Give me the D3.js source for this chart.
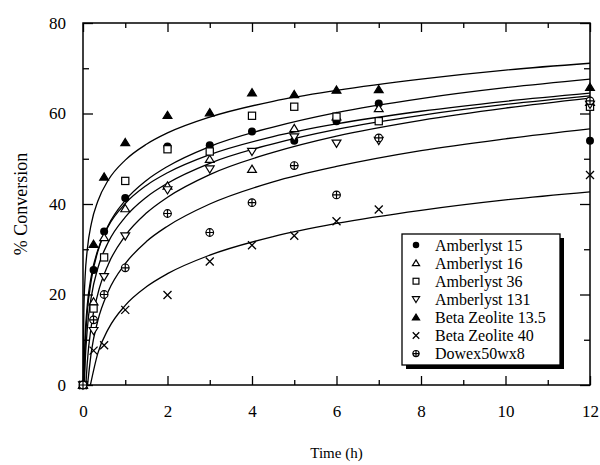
<!DOCTYPE html>
<html>
<head>
<meta charset="utf-8">
<script src="https://cdn.jsdelivr.net/npm/d3@7"></script>
<style>
  body { margin: 0; background: #fff; }
  svg { font-family: "Liberation Serif", "Times New Roman", serif; }
</style>
</head>
<body>
<script>
const width = 600;
const height = 465;

const plotLeft = 83, plotRight = 590, plotTop = 23, plotBottom = 385;

// catalysts, in legend order
const seriesNames = ['Amberlyst 15', 'Amberlyst 16', 'Amberlyst 36', 'Amberlyst 131',
                     'Beta Zeolite 13.5', 'Beta Zeolite 40', 'Dowex50wx8'];
const markerTypes = ['dot', 'tri', 'square', 'triDown', 'triFill', 'cross', 'oplus'];

// measured points (% conversion)
const times   = [0, 0.25, 0.5, 1, 2, 3, 4, 5, 6, 7, 12];
const amb15   = [0, 25.4, 33.9, 41.3, 52.7, 53.0, 56.0, 54.0, 58.3, 62.2, 54.0];
const amb16   = [0, 18.4, 32.6, 39.0, 44.0, 49.9, 47.7, 56.7, 59.3, 61.1, 62.5];
const amb36   = [0, 16.9, 28.2, 45.1, 52.1, 51.6, 59.5, 61.5, 59.3, 58.3, 61.5];
const amb131  = [0, 12.0, 23.9, 32.9, 43.1, 47.7, 51.6, 54.8, 53.4, 54.0, 62.0];
const beta135 = [0, 31.1, 46.0, 53.6, 59.6, 60.2, 64.6, 64.2, 65.2, 65.3, 65.8];
const beta40  = [0, 7.6, 8.8, 16.6, 19.9, 27.3, 30.9, 33.0, 36.2, 38.8, 46.4];
const dowex   = [0, 14.4, 20.0, 25.9, 37.9, 33.7, 40.3, 48.5, 42.0, 54.6, 62.8];

// fitted curves (start = where a curve leaves the x axis)
const fitTimes   = [0.02, 0.05, 0.1, 0.2, 0.35, 0.6, 1, 1.5, 2, 3, 4.5, 6, 8, 10, 12];
const fitStart   = [0.023, 0.032, 0.017, 0.068, 0.0031, 0.175, 0.107];
const fitAmb15   = [null, 8.4, 15.9, 23.4, 29.5, 35.3, 40.8, 45.2, 48.3, 52.7, 57.0, 60.2, 63.3, 65.7, 67.6];
const fitAmb16   = [null, 4.7, 12.2, 19.7, 25.8, 31.6, 37.1, 41.5, 44.6, 49.0, 53.3, 56.5, 59.6, 62.0, 63.9];
const fitAmb36   = [1.6, 10.6, 17.5, 24.3, 29.8, 35.1, 40.1, 44.1, 46.9, 50.9, 54.9, 57.7, 60.5, 62.7, 64.5];
const fitAmb131  = [null, null, 4.8, 13.3, 20.1, 26.7, 33.0, 38.0, 41.5, 46.5, 51.4, 55.0, 58.5, 61.2, 63.4];
const fitBeta135 = [16.0, 23.9, 29.8, 35.8, 40.6, 45.3, 49.7, 53.2, 55.7, 59.2, 62.7, 65.1, 67.6, 69.6, 71.1];
const fitBeta40  = [null, null, null, null, 7.0, 12.4, 17.6, 21.7, 24.6, 28.7, 32.8, 35.7, 38.6, 40.9, 42.7];
const fitDowex   = [null, null, null, 7.5, 14.2, 20.7, 26.8, 31.7, 35.1, 40.0, 44.9, 48.3, 51.8, 54.4, 56.6];

const xTicks = [0, 2, 4, 6, 8, 10, 12];
const xMinor = [1, 3, 5, 7, 9, 11];
const yTicks = [0, 20, 40, 60, 80];
const yMinor = [10, 30, 50, 70];

const pointSeries = [amb15, amb16, amb36, amb131, beta135, beta40, dowex];
const fitSeries = [fitAmb15, fitAmb16, fitAmb36, fitAmb131, fitBeta135, fitBeta40, fitDowex];


const svg = d3.select('body')
  .append('svg')
  .attr('width', width)
  .attr('height', height);

svg.append('rect')
  .attr('width', width)
  .attr('height', height)
  .attr('fill', '#fff');

const x = d3.scaleLinear().domain([0, 12]).range([plotLeft, plotRight]);
const y = d3.scaleLinear().domain([0, 80]).range([plotBottom, plotTop]);


// axes: ticks point inward on all four sides
function styleAxis(g) {
  g.select('.domain').remove();
  g.selectAll('line').attr('stroke', '#000').attr('stroke-width', 1.3);
  g.selectAll('text').attr('fill', '#000').style('font-size', '17px')
    .style('font-family', '"Liberation Serif", serif');
}

svg.append('g')
  .attr('transform', `translate(0,${plotBottom})`)
  .call(d3.axisBottom(x).tickValues(xTicks).tickSize(-9).tickPadding(20).tickFormat(d3.format('d')))
  .call(styleAxis);
svg.append('g')
  .attr('transform', `translate(0,${plotBottom})`)
  .call(d3.axisBottom(x).tickValues(xMinor).tickSize(-5).tickFormat(''))
  .call(styleAxis);
svg.append('g')
  .attr('transform', `translate(0,${plotTop})`)
  .call(d3.axisTop(x).tickValues(xTicks).tickSize(-9).tickFormat(''))
  .call(styleAxis);
svg.append('g')
  .attr('transform', `translate(0,${plotTop})`)
  .call(d3.axisTop(x).tickValues(xMinor).tickSize(-5).tickFormat(''))
  .call(styleAxis);

svg.append('g')
  .attr('transform', `translate(${plotLeft},0)`)
  .call(d3.axisLeft(y).tickValues(yTicks).tickSize(-10).tickPadding(17).tickFormat(d3.format('d')))
  .call(styleAxis);
svg.append('g')
  .attr('transform', `translate(${plotLeft},0)`)
  .call(d3.axisLeft(y).tickValues(yMinor).tickSize(-6).tickFormat(''))
  .call(styleAxis);
svg.append('g')
  .attr('transform', `translate(${plotRight},0)`)
  .call(d3.axisRight(y).tickValues(yTicks).tickSize(-10).tickFormat(''))
  .call(styleAxis);
svg.append('g')
  .attr('transform', `translate(${plotRight},0)`)
  .call(d3.axisRight(y).tickValues(yMinor).tickSize(-6).tickFormat(''))
  .call(styleAxis);

// plot frame
svg.append('rect')
  .attr('x', plotLeft).attr('y', plotTop)
  .attr('width', plotRight - plotLeft).attr('height', plotBottom - plotTop)
  .attr('fill', 'none').attr('stroke', '#000').attr('stroke-width', 1.5);


// fitted curves
const line = d3.line()
  .x(d => x(d[0]))
  .y(d => y(d[1]))
  .curve(d3.curveMonotoneX);

const curves = svg.append('g');
fitSeries.forEach((vals, i) => {
  const pts = [[fitStart[i], 0]];
  fitTimes.forEach((t, j) => {
    if (vals[j] !== null && t > fitStart[i]) pts.push([t, vals[j]]);
  });
  curves.append('path')
    .attr('d', line(pts))
    .attr('fill', 'none')
    .attr('stroke', '#000')
    .attr('stroke-width', 1.3);
});


// markers
function drawMarker(g, type, cx, cy, s) {
  const h = s / 2;
  if (type === 'dot') {
    g.append('circle').attr('cx', cx).attr('cy', cy).attr('r', h).attr('fill', '#000');
  } else if (type === 'square') {
    g.append('rect').attr('x', cx - h * 0.9).attr('y', cy - h * 0.9)
      .attr('width', s * 0.9).attr('height', s * 0.9)
      .attr('fill', '#fff').attr('stroke', '#000').attr('stroke-width', 1.2);
  } else if (type === 'tri' || type === 'triFill') {
    const w = h * 1.1;
    g.append('path')
      .attr('d', `M${cx},${cy - h}L${cx + w},${cy + h * 0.8}L${cx - w},${cy + h * 0.8}Z`)
      .attr('fill', type === 'triFill' ? '#000' : '#fff')
      .attr('stroke', '#000').attr('stroke-width', 1.2);
  } else if (type === 'triDown') {
    const w = h * 1.1;
    g.append('path')
      .attr('d', `M${cx},${cy + h}L${cx + w},${cy - h * 0.8}L${cx - w},${cy - h * 0.8}Z`)
      .attr('fill', '#fff').attr('stroke', '#000').attr('stroke-width', 1.2);
  } else if (type === 'cross') {
    g.append('path')
      .attr('d', `M${cx - h},${cy - h}L${cx + h},${cy + h}M${cx - h},${cy + h}L${cx + h},${cy - h}`)
      .attr('stroke', '#000').attr('stroke-width', 1.3);
  } else if (type === 'oplus') {
    g.append('circle').attr('cx', cx).attr('cy', cy).attr('r', h * 0.95)
      .attr('fill', '#fff').attr('stroke', '#000').attr('stroke-width', 1.2);
    g.append('path')
      .attr('d', `M${cx - h},${cy}L${cx + h},${cy}M${cx},${cy - h}L${cx},${cy + h}`)
      .attr('stroke', '#000').attr('stroke-width', 1.2);
  }
}

const markers = svg.append('g');
pointSeries.forEach((vals, i) => {
  vals.forEach((v, j) => drawMarker(markers, markerTypes[i], x(times[j]), y(v), 8));
});


// legend with drop shadow
const legX = 402, legY = 234, legW = 158, legH = 131;
const legend = svg.append('g');
legend.append('rect')
  .attr('x', legX + 4).attr('y', legY + 4)
  .attr('width', legW).attr('height', legH)
  .attr('fill', '#000');
legend.append('rect')
  .attr('x', legX).attr('y', legY)
  .attr('width', legW).attr('height', legH)
  .attr('fill', '#fff').attr('stroke', '#000').attr('stroke-width', 1.3);

seriesNames.forEach((name, i) => {
  const cy = legY + 11 + i * 18.1;
  drawMarker(legend, markerTypes[i], legX + 14, cy, 6.5);
  legend.append('text')
    .attr('x', legX + 33)
    .attr('y', cy)
    .attr('dy', '0.35em')
    .style('font-size', '16px')
    .text(name);
});


// axis titles
svg.append('text')
  .attr('x', (plotLeft + plotRight) / 2)
  .attr('y', 458)
  .attr('text-anchor', 'middle')
  .style('font-size', '15px')
  .text('Time (h)');

svg.append('text')
  .attr('transform', `translate(27,${(plotTop + plotBottom) / 2}) rotate(-90)`)
  .attr('text-anchor', 'middle')
  .style('font-size', '18px')
  .text('% Conversion');
</script>
</body>
</html>
